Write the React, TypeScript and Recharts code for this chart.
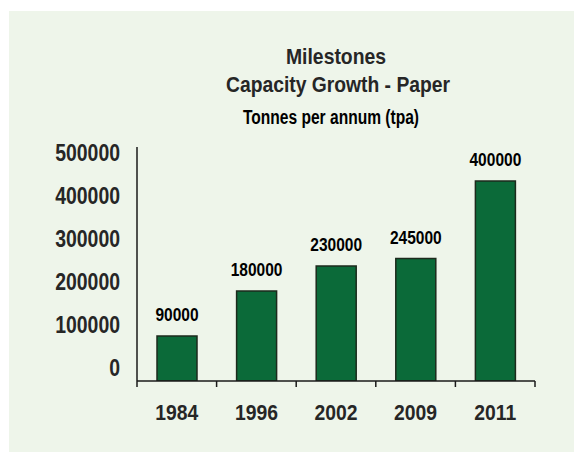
import { BarChart, Bar, XAxis, YAxis, LabelList } from "recharts";

const years = ["1984", "1996", "2002", "2009", "2011"];
const capacity = [90000, 180000, 230000, 245000, 400000];
const yTickLabels = [0, 100000, 200000, 300000, 400000, 500000];
const edgeTicks = [0, 1, 2, 3, 4, 5];

const titleLines = ["Milestones", "Capacity Growth - Paper"];
const subtitle = "Tonnes per annum (tpa)";

const data = years.map((year, i) => ({
  year,
  value: capacity[i],
  idx: i + 0.5,
}));

const FONT = "'Liberation Sans', Arial, sans-serif";
const INK = "#1a1a1a";

// Arial-Narrow look: squeeze Liberation Sans Bold horizontally
function NarrowText({ x, y, size, squeeze, anchor = "middle", fill = "#262626", dy = 0, children }: any) {
  return (
    <g transform={`translate(${x},${y}) scale(${squeeze},1)`}>
      <text x={0} y={0} dy={dy} textAnchor={anchor} fontFamily={FONT} fontWeight="bold" fontSize={size} fill={fill}>
        {children}
      </text>
    </g>
  );
}

const YTick = (props: any) => (
  <NarrowText x={props.x} y={props.y} size={24} squeeze={0.81} anchor="end" dy="0.36em">
    {props.payload.value}
  </NarrowText>
);

const XTick = (props: any) => (
  <NarrowText x={props.x} y={props.y} size={22.5} squeeze={0.86} dy="0.72em">
    {props.payload.value}
  </NarrowText>
);

const ValueLabel = (props: any) => (
  <NarrowText x={props.x + props.width / 2} y={props.y - 15} size={18.5} squeeze={0.84} fill="#000">
    {props.value}
  </NarrowText>
);

// axes of one side are stacked by id: "a_*" sits next to the plot, "b_*" outside it
export default function App() {
  return (
    <div style={{ position: "absolute", left: 0, top: 0, width: 574, height: 452, background: "#fff" }}>
      <div style={{ position: "absolute", left: 9, top: 11, width: 565, height: 441, background: "#eef5ea" }} />
      <svg width={574} height={452} style={{ position: "absolute", left: 0, top: 0 }}>
        <NarrowText x={336} y={64} size={22} squeeze={0.88}>{titleLines[0]}</NarrowText>
        <NarrowText x={338} y={92} size={22} squeeze={0.877}>{titleLines[1]}</NarrowText>
        <NarrowText x={331} y={124} size={20.5} squeeze={0.76} fill="#000">{subtitle}</NarrowText>
      </svg>
      <div style={{ position: "absolute", left: 0, top: 0 }}>
        <BarChart width={574} height={452} data={data} margin={{ top: 147, right: 39, bottom: 30, left: 16 }}>
          <XAxis
            xAxisId="a_edge"
            type="number"
            dataKey="idx"
            domain={[0, 5]}
            ticks={edgeTicks}
            interval={0}
            tick={() => null}
            tickSize={6}
            height={1}
            axisLine={{ stroke: INK, strokeWidth: 1.5 }}
            tickLine={{ stroke: INK, strokeWidth: 1.5 }}
          />
          <XAxis
            xAxisId="b_cat"
            dataKey="year"
            axisLine={false}
            tickLine={false}
            height={40}
            tickSize={6}
            tickMargin={16}
            tick={<XTick />}
          />
          <YAxis
            yAxisId="a_main"
            domain={[0, 468000]}
            allowDataOverflow
            width={1}
            tick={() => null}
            tickLine={false}
            axisLine={{ stroke: INK, strokeWidth: 1.5 }}
          />
          <YAxis
            yAxisId="b_labels"
            domain={[-30950, 512800]}
            allowDataOverflow
            ticks={yTickLabels}
            interval={0}
            width={120}
            axisLine={false}
            tickLine={false}
            tickSize={6}
            tickMargin={10}
            tick={<YTick />}
          />
          <Bar
            xAxisId="b_cat"
            yAxisId="a_main"
            dataKey="value"
            barSize={40}
            fill="#0b6a39"
            stroke="#1c2a1c"
            strokeWidth={1.5}
            isAnimationActive={false}
          >
            <LabelList dataKey="value" content={<ValueLabel />} />
          </Bar>
        </BarChart>
      </div>
    </div>
  );
}
